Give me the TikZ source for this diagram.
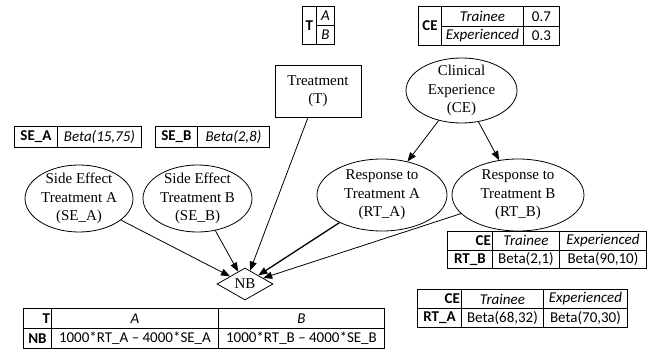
\documentclass[tikz,border=0pt]{standalone}
\usepackage{fontspec}
\setmainfont{Liberation Serif}
\newfontfamily\tabfont{Carlito}
\usetikzlibrary{shapes.geometric,arrows.meta}
\tikzset{
  ell/.style={draw, line width=0.8pt, ellipse, inner sep=0pt},
  lbl/.style={align=center, inner sep=0pt, font=\fontsize{15}{18.5}\selectfont},
  cell/.style={draw, line width=0.9pt, anchor=north west, inner sep=0pt, font=\tabfont\fontsize{15}{18}\selectfont},
  rcell/.style={cell, align=right},
  arr/.style={line width=0.8pt, -{Triangle[length=9pt,width=7pt]}}
}
\begin{document}
\begin{tikzpicture}[x=1pt,y=-1pt]
\useasboundingbox (0,0) rectangle (658,351);
\fill[white] (0,0) rectangle (658,351);

% T table
\node[cell, minimum width=14, minimum height=38] (t0) at (302,6) {\bfseries T};
\node[cell, minimum width=18, minimum height=19] (t1) at (316,6) {\itshape A};
\node[cell, minimum width=18, minimum height=19] (t2) at (316,25) {\itshape B};

% CE table
\node[cell, minimum width=23, minimum height=39] (ce0) at (418,6) {\bfseries CE};
\node[cell, minimum width=82, minimum height=19.5] (ce1) at (441,6) {\itshape Trainee};
\node[cell, minimum width=82, minimum height=19.5] (ce2) at (441,25.5) {\itshape Experienced};
\node[cell, minimum width=36, minimum height=19.5] (ce3) at (523,6) {0.7};
\node[cell, minimum width=36, minimum height=19.5] (ce4) at (523,25.5) {0.3};

% SE tables
\node[cell, minimum width=43, minimum height=21] (sa0) at (14,126) {\bfseries SE\_A};
\node[cell, minimum width=84, minimum height=21] (sa1) at (57,126) {\itshape Beta(15,75)};
\node[cell, minimum width=42, minimum height=21] (sb0) at (155,126) {\bfseries SE\_B};
\node[cell, minimum width=72, minimum height=21] (sb1) at (197,126) {\itshape Beta(2,8)};

% RT_B table
\node[rcell, text width=42, minimum width=45, minimum height=18.5] (rb0) at (447,231) {\bfseries CE\hspace*{1pt}};
\node[cell, minimum width=67, minimum height=18.5] (rb1) at (492,231) {\itshape Trainee};
\node[cell, minimum width=87, minimum height=18.5] (rb2) at (559,231) {\itshape Experienced};
\node[cell, minimum width=45, minimum height=18.5] (rb3) at (447,249.5) {\bfseries RT\_B};
\node[cell, minimum width=67, minimum height=18.5] (rb4) at (492,249.5) {Beta(2,1)};
\node[cell, minimum width=87, minimum height=18.5] (rb5) at (559,249.5) {Beta(90,10)};

% RT_A table
\node[rcell, text width=41, minimum width=44, minimum height=19] (ra0) at (417,289) {\bfseries CE\hspace*{1pt}};
\node[cell, minimum width=82, minimum height=19] (ra1) at (461,289) {\itshape Trainee};
\node[cell, minimum width=84, minimum height=19] (ra2) at (543,289) {\itshape Experienced};
\node[cell, minimum width=44, minimum height=19] (ra3) at (417,308) {\bfseries RT\_A};
\node[cell, minimum width=82, minimum height=19] (ra4) at (461,308) {Beta(68,32)};
\node[cell, minimum width=84, minimum height=19] (ra5) at (543,308) {Beta(70,30)};

% NB table
\node[rcell, text width=25, minimum width=28, minimum height=20] (nb0) at (23,308) {\bfseries T\hspace*{1pt}};
\node[cell, minimum width=167, minimum height=20] (nb1) at (51,308) {\itshape A};
\node[cell, minimum width=166, minimum height=20] (nb2) at (218,308) {\itshape B};
\node[cell, minimum width=28, minimum height=20] (nb3) at (23,328) {\bfseries NB};
\node[cell, minimum width=167, minimum height=20] (nb4) at (51,328) {1000*RT\_A – 4000*SE\_A};
\node[cell, minimum width=166, minimum height=20] (nb5) at (218,328) {1000*RT\_B – 4000*SE\_B};

% graph nodes
\node[draw, line width=0.8pt, rectangle, minimum width=86, minimum height=52, inner sep=0pt] (trt) at (318,91) {};
\node[lbl] (trtl) at (trt.center) {Treatment\\(T)};
\node[ell, minimum width=111, minimum height=65] (ce) at (461.5,90.5) {};
\node[lbl] (cel) at (ce.center) {Clinical\\Experience\\(CE)};
\node[ell, minimum width=108, minimum height=67] (sea) at (79,198.5) {};
\node[lbl] (seal) at (sea.center) {Side Effect\\Treatment A\\(SE\_A)};
\node[ell, minimum width=109, minimum height=67] (seb) at (197.5,198.5) {};
\node[lbl] (sebl) at (seb.center) {Side Effect\\Treatment B\\(SE\_B)};
\node[ell, minimum width=130, minimum height=72] (rta) at (382,195) {};
\node[lbl] (rtal) at (rta.center) {Response to\\Treatment A\\(RT\_A)};
\node[ell, minimum width=132, minimum height=72] (rtb) at (518,195) {};
\node[lbl] (rtbl) at (rtb.center) {Response to\\Treatment B\\(RT\_B)};
\node[draw, line width=0.8pt, diamond, minimum width=56, minimum height=32, inner sep=0pt, font=\fontsize{15}{18}\selectfont] (nb) at (245,284) {NB};

% edges
\draw[arr] (ce) -- (rta);
\draw[arr] (ce) -- (rtb);
\draw[arr] (sea) -- (nb);
\draw[arr] (seb) -- (nb);
\draw[arr] (trt) -- (nb);
\draw[arr, line width=1.3pt] (rta) -- (nb);
\draw[arr] (rtb) -- (nb);
\end{tikzpicture}
\end{document}
